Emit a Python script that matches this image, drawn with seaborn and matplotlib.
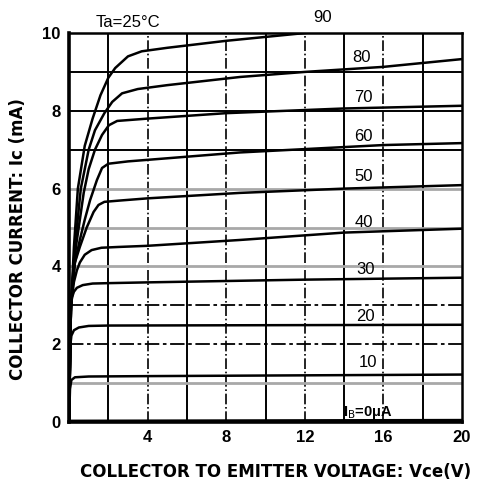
import pandas as pd
import matplotlib
matplotlib.use('Agg')
import matplotlib.pyplot as plt
import seaborn as sns

# Ic-Vce output characteristics, Ta=25C, one curve per base current (uA)
ib_values = [0, 10, 20, 30, 40, 50, 60, 70, 80, 90]

vce_0 = [0, 20]
ic_0 = [0.03, 0.05]

vce_10 = [0, 0.05, 0.12, 0.3, 1.0, 4.0, 20]
ic_10 = [0, 0.85, 1.08, 1.15, 1.17, 1.18, 1.22]

vce_20 = [0, 0.05, 0.12, 0.25, 0.5, 1.0, 2.0, 20]
ic_20 = [0, 1.9, 2.22, 2.36, 2.43, 2.47, 2.48, 2.5]

vce_30 = [0, 0.08, 0.15, 0.25, 0.4, 0.7, 1.2, 2.0, 4.0, 12, 20]
ic_30 = [0, 2.8, 3.2, 3.35, 3.45, 3.52, 3.56, 3.57, 3.59, 3.66, 3.71]

vce_40 = [0, 0.1, 0.25, 0.4, 0.55, 0.8, 1.15, 1.65, 2.5, 4.0, 8.7, 14, 20]
ic_40 = [0, 3.0, 3.6, 3.9, 4.1, 4.3, 4.42, 4.48, 4.5, 4.53, 4.68, 4.87, 4.97]

vce_50 = [0, 0.1, 0.2, 0.3, 0.55, 0.9, 1.25, 1.5, 1.8, 2.5, 4.0, 8.7, 14, 20]
ic_50 = [0, 3.0, 3.7, 4.1, 4.5, 5.0, 5.4, 5.58, 5.66, 5.69, 5.75, 5.89, 6.0, 6.09]

vce_60 = [0, 0.1, 0.3, 0.55, 0.8, 1.07, 1.42, 1.68, 2.0, 3.0, 5.0, 8.7, 16, 20]
ic_60 = [0, 3.0, 4.1, 4.68, 5.2, 5.7, 6.22, 6.53, 6.64, 6.7, 6.78, 6.93, 7.12, 7.17]

vce_70 = [0, 0.1, 0.35, 0.75, 1.0, 1.32, 1.68, 2.03, 2.45, 4.0, 8.0, 14, 20]
ic_70 = [0, 3.0, 4.5, 5.9, 6.5, 7.0, 7.38, 7.63, 7.74, 7.8, 7.94, 8.06, 8.13]

vce_80 = [0, 0.1, 0.3, 0.6, 1.0, 1.32, 1.8, 2.2, 2.7, 3.5, 5.0, 8.7, 12, 16, 20]
ic_80 = [0, 3.0, 4.5, 6.0, 7.0, 7.5, 7.94, 8.23, 8.45, 8.56, 8.66, 8.87, 9.0, 9.13, 9.33]

vce_90 = [0, 0.1, 0.25, 0.45, 0.8, 1.2, 1.6, 2.0, 2.35, 3.0, 3.7, 5.0, 8.0, 12, 20]
ic_90 = [0, 3.0, 4.5, 6.0, 7.1, 7.8, 8.4, 8.85, 9.1, 9.4, 9.53, 9.62, 9.8, 10.0, 10.4]

curve_labels = ['90', '80', '70', '60', '50', '40', '30', '20', '10']
x_ticks = [4, 8, 12, 16, 20]
y_ticks = [0, 2, 4, 6, 8, 10]

vce_all = [vce_0, vce_10, vce_20, vce_30, vce_40, vce_50, vce_60, vce_70, vce_80, vce_90]
ic_all = [ic_0, ic_10, ic_20, ic_30, ic_40, ic_50, ic_60, ic_70, ic_80, ic_90]

rows = []
for ib, vs, cs in zip(ib_values, vce_all, ic_all):
    for v, c in zip(vs, cs):
        rows.append({'ib': ib, 'vce': v, 'ic': c})
df = pd.DataFrame(rows)

sns.set_style('white')
plt.rcParams['font.family'] = ['Liberation Sans', 'DejaVu Sans']
plt.rcParams['text.color'] = 'black'
plt.rcParams['axes.labelcolor'] = 'black'
plt.rcParams['xtick.color'] = 'black'
plt.rcParams['ytick.color'] = 'black'

fig = plt.figure(figsize=(4.78, 4.80), dpi=100)
ax = fig.add_axes([0.1444, 0.1208, 0.8221, 0.8104])

# grid, drawn the way the scanned sheet has it
for x in [2, 6, 10, 14, 18]:
    ax.axvline(x, color='black', lw=1.4, zorder=1)
for x in [4, 8, 12, 16]:
    ax.axvline(x, color='black', lw=1.2, ls='-.', zorder=1)
for y in [7, 8, 9]:
    ax.axhline(y, color='black', lw=1.4, zorder=1)
for y in [2, 3]:
    ax.axhline(y, color='black', lw=1.3, ls=(0, (8, 2, 2, 2)), zorder=1)
for y in [1, 4, 5, 6]:
    ax.axhline(y, color='#a8a8a8', lw=2.0, zorder=1)

sns.lineplot(data=df, x='vce', y='ic', units='ib', estimator=None, sort=False,
             color='black', lw=1.8, ax=ax, legend=False, zorder=3)

ax.set_xlim(0, 20)
ax.set_ylim(0, 10)
ax.set_xticks(x_ticks)
ax.set_yticks(y_ticks)
ax.tick_params(length=0, labelsize=12, pad=6)
for lab in ax.get_xticklabels() + ax.get_yticklabels():
    lab.set_fontweight('bold')

for side in ['left', 'bottom']:
    ax.spines[side].set_linewidth(2.6)
for side in ['top', 'right']:
    ax.spines[side].set_linewidth(1.8)
for s in ax.spines.values():
    s.set_color('black')
    s.set_zorder(4)

# curve labels
label_x = [12.9, 14.9, 15.0, 15.0, 15.0, 15.0, 15.1, 15.1, 15.2]
label_y = [10.4, 9.36, 8.33, 7.35, 6.3, 5.12, 3.93, 2.72, 1.54]
for t, lx, ly in zip(curve_labels, label_x, label_y):
    ax.text(lx, ly, t, fontsize=12, ha='center', va='center', clip_on=False, zorder=5)
ax.text(15.2, 0.25, 'I$_{\\rm B}$=0\u03bcA', fontsize=10.5, fontweight='bold',
        ha='center', va='center', zorder=5)
ax.text(3.0, 10.27, 'Ta=25\u00b0C', fontsize=12, ha='center', va='center', clip_on=False)

ax.set_xlabel('COLLECTOR TO EMITTER VOLTAGE: Vce(V)', fontsize=12, fontweight='bold',
              family='DejaVu Sans')
ax.set_ylabel('COLLECTOR CURRENT: Ic (mA)', fontsize=12, fontweight='bold',
              family='DejaVu Sans')
ax.xaxis.set_label_coords(0.525, -0.105)
ax.yaxis.set_label_coords(-0.108, 0.47)

fig.savefig('out.png', dpi=100)
